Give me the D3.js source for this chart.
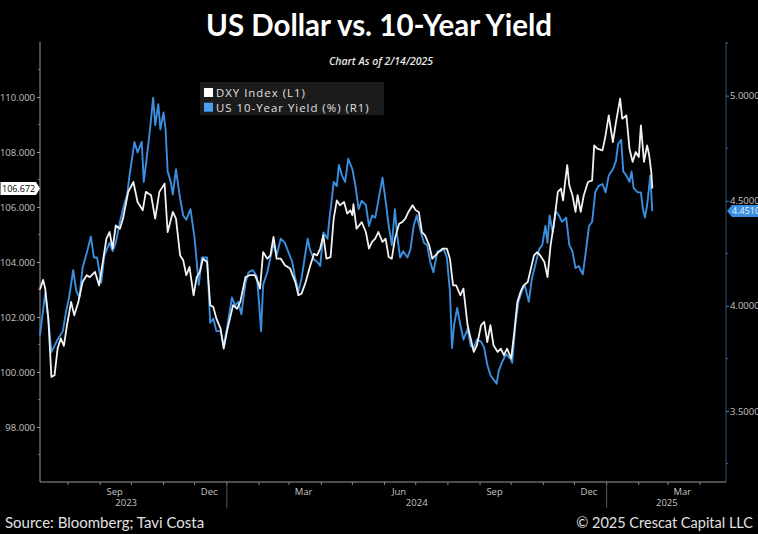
<!DOCTYPE html>
<html>
<head>
<meta charset="utf-8">
<script src="https://cdn.jsdelivr.net/npm/d3@7"></script>
<style>
  html, body { margin: 0; padding: 0; background: #000; }
  svg { display: block; }
</style>
</head>
<body>
<div id="vis"></div>
<script>
// DXY index
const dxyDates = [
  '2023-07-05','2023-07-08','2023-07-10','2023-07-13','2023-07-16','2023-07-19','2023-07-22','2023-07-25','2023-07-28','2023-07-31',
  '2023-08-04','2023-08-07','2023-08-11','2023-08-15','2023-08-19','2023-08-22','2023-08-27','2023-08-31','2023-09-04','2023-09-07',
  '2023-09-10','2023-09-13','2023-09-16','2023-09-20','2023-09-23','2023-09-28','2023-10-03','2023-10-07','2023-10-12','2023-10-15',
  '2023-10-20','2023-10-24','2023-10-28','2023-11-02','2023-11-05','2023-11-10','2023-11-13','2023-11-17','2023-11-20','2023-11-23',
  '2023-11-26','2023-11-30','2023-12-03','2023-12-06','2023-12-09','2023-12-13','2023-12-16','2023-12-19','2023-12-22','2023-12-26',
  '2023-12-29','2024-01-01','2024-01-04','2024-01-07','2024-01-11','2024-01-14','2024-01-19','2024-01-23','2024-01-28','2024-01-31',
  '2024-02-02','2024-02-05','2024-02-09','2024-02-12','2024-02-15','2024-02-18','2024-02-22','2024-02-26','2024-03-02','2024-03-07',
  '2024-03-10','2024-03-13','2024-03-17','2024-03-21','2024-03-25','2024-03-28','2024-03-31','2024-04-03','2024-04-06','2024-04-10',
  '2024-04-13','2024-04-16','2024-04-19','2024-04-23','2024-04-26','2024-04-29','2024-05-01','2024-05-02','2024-05-05','2024-05-10',
  '2024-05-14','2024-05-17','2024-05-20','2024-05-23','2024-05-26','2024-05-30','2024-06-02','2024-06-05','2024-06-08','2024-06-11',
  '2024-06-15','2024-06-18','2024-06-21','2024-06-24','2024-06-28','2024-07-01','2024-07-04','2024-07-07','2024-07-10','2024-07-14',
  '2024-07-17','2024-07-20','2024-07-23','2024-07-27','2024-07-31','2024-08-03','2024-08-06','2024-08-09','2024-08-13','2024-08-16',
  '2024-08-20','2024-08-23','2024-08-26','2024-08-29','2024-09-02','2024-09-05','2024-09-08','2024-09-11','2024-09-14','2024-09-18',
  '2024-09-21','2024-09-24','2024-09-27','2024-10-01','2024-10-04','2024-10-07','2024-10-10','2024-10-13','2024-10-17','2024-10-20',
  '2024-10-23','2024-10-26','2024-10-29','2024-11-02','2024-11-05','2024-11-08','2024-11-11','2024-11-15','2024-11-18','2024-11-20',
  '2024-11-22','2024-11-24','2024-11-26','2024-11-29','2024-12-02','2024-12-04','2024-12-07','2024-12-10','2024-12-14','2024-12-18',
  '2024-12-20','2024-12-23','2024-12-28','2024-12-31','2025-01-03','2025-01-07','2025-01-10','2025-01-14','2025-01-16','2025-01-20',
  '2025-01-23','2025-01-26','2025-01-29','2025-02-01','2025-02-03','2025-02-06','2025-02-09','2025-02-11','2025-02-13','2025-02-14'
];
const dxyValues = [
  103.00,103.35,103.04,101.95,99.82,99.88,100.86,101.22,100.95,101.70,
  102.55,102.06,102.55,103.27,103.52,103.45,103.64,103.15,104.12,104.85,
  105.09,104.49,105.33,105.21,105.58,106.55,106.91,106.18,105.88,106.55,
  106.43,105.58,106.55,106.85,105.09,105.82,105.58,104.24,104.06,103.52,
  103.82,102.79,103.45,103.64,104.12,104.00,102.43,102.36,101.94,101.58,
  100.85,101.45,101.94,102.43,102.30,102.55,103.45,103.52,103.52,103.27,
  103.03,104.36,104.12,104.24,104.91,104.12,104.12,103.88,103.76,103.27,
  102.79,102.85,103.27,103.82,104.30,104.24,104.49,104.97,104.12,104.18,
  105.58,106.24,106.06,106.18,105.76,105.88,105.70,106.10,105.21,105.45,
  105.09,104.49,104.73,104.85,105.09,104.73,104.85,104.18,104.12,104.85,
  105.39,105.45,105.58,105.82,106.06,105.88,105.82,105.09,104.97,104.61,
  104.12,104.24,104.36,104.49,104.49,104.12,103.15,103.15,102.79,103.03,
  101.70,101.21,100.73,100.97,101.70,101.82,101.09,101.70,100.97,100.73,
  100.85,100.61,100.85,100.49,101.45,102.55,102.91,103.15,103.27,103.76,
  104.24,104.36,104.24,104.00,103.45,104.61,105.33,106.55,106.67,106.24,
  106.91,107.52,106.79,106.43,105.82,106.43,105.82,106.43,106.91,106.97,
  108.24,108.12,108.06,108.61,109.33,108.36,109.09,109.94,109.21,109.33,
  108.12,107.64,108.00,107.82,108.97,107.64,108.24,107.88,107.27,106.672
];

// US 10-year yield (%)
const ustDates = [
  '2023-07-05','2023-07-10','2023-07-13','2023-07-16','2023-07-19','2023-07-22','2023-07-27','2023-07-30','2023-08-02','2023-08-06',
  '2023-08-09','2023-08-12','2023-08-15','2023-08-20','2023-08-23','2023-08-26','2023-08-29','2023-09-02','2023-09-05','2023-09-10',
  '2023-09-13','2023-09-16','2023-09-20','2023-09-24','2023-09-27','2023-09-29','2023-10-04','2023-10-07','2023-10-11','2023-10-13',
  '2023-10-15','2023-10-19','2023-10-22','2023-10-24','2023-10-27','2023-10-29','2023-11-01','2023-11-03','2023-11-05','2023-11-08',
  '2023-11-10','2023-11-13','2023-11-17','2023-11-20','2023-11-23','2023-11-27','2023-12-01','2023-12-05','2023-12-08','2023-12-13',
  '2023-12-16','2023-12-19','2023-12-22','2023-12-26','2023-12-29','2024-01-01','2024-01-06','2024-01-09','2024-01-12','2024-01-15',
  '2024-01-19','2024-01-22','2024-01-26','2024-01-30','2024-02-01','2024-02-03','2024-02-05','2024-02-09','2024-02-12','2024-02-15',
  '2024-02-18','2024-02-22','2024-02-26','2024-02-29','2024-03-04','2024-03-07','2024-03-10','2024-03-13','2024-03-17','2024-03-19',
  '2024-03-21','2024-03-25','2024-03-28','2024-03-31','2024-04-03','2024-04-07','2024-04-09','2024-04-11','2024-04-13','2024-04-16',
  '2024-04-18','2024-04-21','2024-04-24','2024-04-27','2024-05-01','2024-05-04','2024-05-07','2024-05-10','2024-05-14','2024-05-17',
  '2024-05-20','2024-05-23','2024-05-26','2024-05-30','2024-06-02','2024-06-05','2024-06-08','2024-06-11','2024-06-13','2024-06-16',
  '2024-06-19','2024-06-23','2024-06-26','2024-06-29','2024-07-02','2024-07-06','2024-07-09','2024-07-12','2024-07-15','2024-07-18',
  '2024-07-22','2024-07-25','2024-07-28','2024-07-31','2024-08-03','2024-08-05','2024-08-07','2024-08-10','2024-08-13','2024-08-16',
  '2024-08-20','2024-08-23','2024-08-26','2024-08-29','2024-09-02','2024-09-05','2024-09-08','2024-09-11','2024-09-14','2024-09-17',
  '2024-09-19','2024-09-22','2024-09-26','2024-09-30','2024-10-02','2024-10-05','2024-10-08','2024-10-12','2024-10-14','2024-10-18',
  '2024-10-21','2024-10-24','2024-10-28','2024-10-31','2024-11-03','2024-11-05','2024-11-07','2024-11-10','2024-11-13','2024-11-16',
  '2024-11-19','2024-11-23','2024-11-26','2024-11-29','2024-12-02','2024-12-05','2024-12-09','2024-12-12','2024-12-15','2024-12-18',
  '2024-12-21','2024-12-24','2024-12-28','2024-12-31','2025-01-03','2025-01-07','2025-01-10','2025-01-12','2025-01-15','2025-01-17',
  '2025-01-20','2025-01-23','2025-01-25','2025-01-27','2025-01-31','2025-02-03','2025-02-05','2025-02-07','2025-02-09','2025-02-11',
  '2025-02-12','2025-02-14'
];
const ustValues = [
  3.86,4.06,3.94,3.78,3.81,3.84,3.88,3.97,4.04,4.17,
  4.07,4.04,4.18,4.27,4.33,4.23,4.23,4.11,4.24,4.30,
  4.26,4.30,4.40,4.48,4.53,4.61,4.78,4.73,4.78,4.59,
  4.67,4.84,4.99,4.86,4.96,4.84,4.92,4.84,4.64,4.59,
  4.53,4.65,4.51,4.43,4.41,4.46,4.32,4.10,4.23,4.23,
  3.92,3.94,3.88,3.88,3.81,3.89,4.04,4.00,4.02,3.96,
  4.11,4.16,4.17,4.14,4.02,3.88,4.10,4.16,4.23,4.30,
  4.24,4.32,4.30,4.26,4.21,4.13,4.07,4.13,4.26,4.32,
  4.27,4.22,4.21,4.19,4.35,4.32,4.42,4.50,4.59,4.57,
  4.67,4.62,4.59,4.70,4.65,4.57,4.46,4.50,4.48,4.38,
  4.43,4.42,4.50,4.61,4.50,4.38,4.29,4.46,4.34,4.23,
  4.26,4.23,4.27,4.38,4.43,4.35,4.30,4.29,4.21,4.16,
  4.26,4.26,4.27,4.23,4.07,3.80,3.91,3.99,3.91,3.84,
  3.89,3.81,3.80,3.84,3.83,3.80,3.72,3.67,3.65,3.63,
  3.69,3.73,3.77,3.75,3.73,3.91,4.02,4.08,4.10,4.02,
  4.13,4.19,4.27,4.29,4.38,4.30,4.43,4.35,4.45,4.43,
  4.40,4.42,4.29,4.26,4.18,4.19,4.15,4.26,4.38,4.40,
  4.54,4.57,4.58,4.54,4.62,4.65,4.69,4.77,4.79,4.64,
  4.62,4.59,4.64,4.56,4.54,4.54,4.46,4.42,4.48,4.57,
  4.62,4.451
];

// axis ticks and labels
const leftTicks = [98, 100, 102, 104, 106, 108, 110];
const leftMinor = [97, 99, 101, 103, 105, 107, 109, 111];
const rightTicks = [3.5, 4.0, 4.5, 5.0];
const rightMinor = [3.25, 3.75, 4.25, 4.75, 5.25];
const monthLabels = ['Sep', 'Dec', 'Mar', 'Jun', 'Sep', 'Dec', 'Mar'];
const monthLabelDates = ['2023-09-15', '2023-12-15', '2024-03-15', '2024-06-15', '2024-09-15', '2024-12-15', '2025-03-15'];
const yearLabels = ['2023', '2024', '2025'];
const yearLabelDates = ['2023-09-26', '2024-07-02', '2025-02-28'];
const yearBreaks = ['2024-01-01', '2025-01-01'];

const lastDxy = 106.672;
const lastUst = 4.4510;

const width = 758;
const height = 534;
const plot = { left: 40, right: 726, top: 42, bottom: 482 };

const parse = d3.utcParse('%Y-%m-%d');
const dxy = dxyDates.map((d, i) => ({ date: parse(d), value: dxyValues[i] }));
const ust = ustDates.map((d, i) => ({ date: parse(d), value: ustValues[i] }));

const svg = d3.select('#vis')
    .append('svg')
    .attr('width', width)
    .attr('height', height)
    .style('background', '#000');

const x = d3.scaleUtc()
    .domain([parse('2023-07-05'), parse('2025-04-26')])
    .range([plot.left, plot.right]);

const yL = d3.scaleLinear()
    .domain([96, 112])
    .range([plot.bottom, plot.top]);

const yR = d3.scaleLinear()
    .domain([3.5, 5.0])
    .range([411, 95.7]);

// title
svg.append('text')
    .attr('x', 379)
    .attr('y', 36)
    .attr('text-anchor', 'middle')
    .attr('fill', '#fff')
    .style('font-family', 'Lato, "Open Sans", sans-serif')
    .style('font-weight', 'bold')
    .style('font-size', '29.5px')
    .text('US Dollar vs. 10-Year Yield');

svg.append('text')
    .attr('x', 381)
    .attr('y', 65)
    .attr('text-anchor', 'middle')
    .attr('fill', '#e8e8e8')
    .style('font-family', '"Open Sans", sans-serif')
    .style('font-style', 'italic')
    .style('font-weight', '600')
    .style('font-size', '10.5px')
    .text('Chart As of 2/14/2025');

// left axis
const left = svg.append('g')
    .attr('transform', `translate(${plot.left},0)`)
    .call(d3.axisLeft(yL).tickValues(leftTicks).tickFormat(d3.format('.3f')).tickSize(3).tickPadding(2));
left.select('.domain').attr('stroke', '#9a9a9a').attr('d', `M0,${plot.top}V${plot.bottom}`);
left.selectAll('.tick line').attr('stroke', '#9a9a9a');
left.selectAll('.tick text')
    .attr('fill', '#c4c4c4')
    .style('font-family', '"Open Sans", sans-serif')
    .style('font-size', '9.5px');
left.selectAll('.minor')
    .data(leftMinor)
    .join('line')
    .attr('x1', -2).attr('x2', 0)
    .attr('y1', d => yL(d)).attr('y2', d => yL(d))
    .attr('stroke', '#777');

// right axis (labels run off the edge, as in the original)
const right = svg.append('g')
    .attr('transform', `translate(${plot.right},0)`)
    .call(d3.axisRight(yR).tickValues(rightTicks).tickFormat(d3.format('.4f')).tickSize(3).tickPadding(1));
right.select('.domain').attr('stroke', '#2e4f78').attr('d', `M0,${plot.top}V${plot.bottom}`);
right.selectAll('.tick line').attr('stroke', '#4a7ab0');
right.selectAll('.tick text')
    .attr('fill', '#c4c4c4')
    .style('font-family', '"Open Sans", sans-serif')
    .style('font-size', '9.5px');
right.selectAll('.minor')
    .data(rightMinor)
    .join('line')
    .attr('x1', 0).attr('x2', 2)
    .attr('y1', d => yR(d)).attr('y2', d => yR(d))
    .attr('stroke', '#3d6593');

// bottom axis
const bottom = svg.append('g')
    .attr('transform', `translate(0,${plot.bottom})`);
bottom.append('line')
    .attr('x1', plot.left).attr('x2', plot.right)
    .attr('stroke', '#9a9a9a');
bottom.selectAll('.mtick')
    .data(d3.utcMonth.range(x.domain()[0], x.domain()[1]))
    .join('line')
    .attr('x1', d => x(d)).attr('x2', d => x(d))
    .attr('y1', 0).attr('y2', 3)
    .attr('stroke', '#888');
bottom.selectAll('.ybreak')
    .data(yearBreaks)
    .join('line')
    .attr('x1', d => x(parse(d))).attr('x2', d => x(parse(d)))
    .attr('y1', 2).attr('y2', 26)
    .attr('stroke', '#555');
bottom.selectAll('.mlabel')
    .data(monthLabels)
    .join('text')
    .attr('x', (d, i) => x(parse(monthLabelDates[i])))
    .attr('y', 13)
    .attr('text-anchor', 'middle')
    .attr('fill', '#c4c4c4')
    .style('font-family', '"Open Sans", sans-serif')
    .style('font-size', '9.5px')
    .text(d => d);
bottom.selectAll('.ylabel')
    .data(yearLabels)
    .join('text')
    .attr('x', (d, i) => x(parse(yearLabelDates[i])))
    .attr('y', 24)
    .attr('text-anchor', 'middle')
    .attr('fill', '#c4c4c4')
    .style('font-family', '"Open Sans", sans-serif')
    .style('font-size', '9.5px')
    .text(d => d);

// lines
const line = (yScale) => d3.line().x(d => x(d.date)).y(d => yScale(d.value));

svg.append('path')
    .datum(ust)
    .attr('fill', 'none')
    .attr('stroke', '#3b8fe0')
    .attr('stroke-width', 1.9)
    .attr('stroke-linejoin', 'round')
    .attr('d', line(yR));

svg.append('path')
    .datum(dxy)
    .attr('fill', 'none')
    .attr('stroke', '#f2f2f2')
    .attr('stroke-width', 1.8)
    .attr('stroke-linejoin', 'round')
    .attr('d', line(yL));

// last value tags
const yl = yL(lastDxy);
svg.append('path')
    .attr('d', `M0.5,${yl - 6.5}H36L40,${yl}L36,${yl + 6.5}H0.5Z`)
    .attr('fill', '#fff');
svg.append('text')
    .attr('x', 2)
    .attr('y', yl + 3.3)
    .attr('fill', '#000')
    .style('font-family', '"Open Sans", sans-serif')
    .style('font-size', '9px')
    .text(d3.format('.3f')(lastDxy));

const yr = yR(lastUst);
svg.append('path')
    .attr('d', `M${plot.right + 1},${yr}L${plot.right + 6},${yr - 6}H758V${yr + 6}H${plot.right + 6}Z`)
    .attr('fill', '#3b8fe0');
svg.append('text')
    .attr('x', plot.right + 6)
    .attr('y', yr + 3.3)
    .attr('fill', '#e6f2ff')
    .style('font-family', '"Open Sans", sans-serif')
    .style('font-size', '9px')
    .text(d3.format('.4f')(lastUst));

// legend
const legend = svg.append('g');
legend.append('rect')
    .attr('x', 200).attr('y', 82)
    .attr('width', 184).attr('height', 33)
    .attr('fill', '#1b1b1b');
const legendItems = [
    { label: 'DXY Index (L1)', color: '#ffffff' },
    { label: 'US 10-Year Yield (%) (R1)', color: '#4aa0f0' }
];
legend.selectAll('.sw')
    .data(legendItems)
    .join('rect')
    .attr('x', 204)
    .attr('y', (d, i) => 88 + i * 14.7)
    .attr('width', 9).attr('height', 9)
    .attr('fill', d => d.color);
legend.selectAll('.lt')
    .data(legendItems)
    .join('text')
    .attr('x', 216)
    .attr('y', (d, i) => 96.8 + i * 14.7)
    .attr('fill', '#e0e0e0')
    .style('font-family', '"Open Sans", sans-serif')
    .style('font-size', '11.4px')
    .style('letter-spacing', '1px')
    .text(d => d.label);

// footer
svg.append('text')
    .attr('x', 5)
    .attr('y', 528)
    .attr('fill', '#e0e0e0')
    .style('font-family', 'Lato, "Open Sans", sans-serif')
    .style('font-size', '15px')
    .text('Source: Bloomberg; Tavi Costa');

svg.append('text')
    .attr('x', 753)
    .attr('y', 528)
    .attr('text-anchor', 'end')
    .attr('fill', '#e0e0e0')
    .style('font-family', 'Lato, "Open Sans", sans-serif')
    .style('font-size', '14.5px')
    .text('© 2025 Crescat Capital LLC');
</script>
</body>
</html>
